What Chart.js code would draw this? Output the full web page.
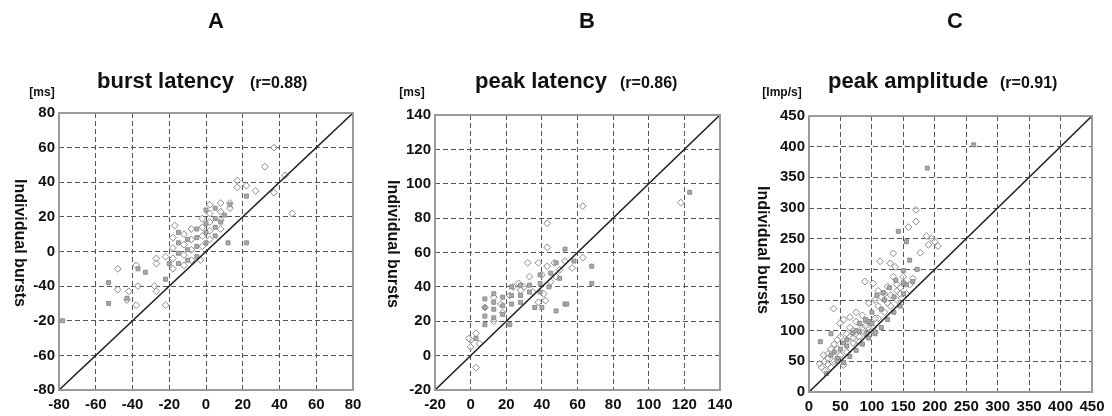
<!DOCTYPE html>
<html><head><meta charset="utf-8">
<script src="https://cdn.jsdelivr.net/npm/chart.js@4.4.1/dist/chart.umd.min.js"></script>
<style>
html,body{margin:0;padding:0;background:#fff;}
#wrap{position:relative;width:1112px;height:416px;overflow:hidden;background:#fff;}
canvas{position:absolute;top:0;}
</style></head><body>
<div id="wrap">
<canvas id="cA" width="370" height="416" style="left:0px;width:370px;height:416px"></canvas>
<canvas id="cB" width="370" height="416" style="left:370px;width:370px;height:416px"></canvas>
<canvas id="cC" width="372" height="416" style="left:740px;width:372px;height:416px"></canvas>
</div>
<script>
// ---------- Panel A: burst latency ----------
const burstOpen = [[37,60],[32,49],[43,44],[37,34],[47,22],[17,41],[17,37],[22,38],[27,35],
 [13,28],[13,25],[8,28],[8,23],[8,18],[8,13],[2,27],[2,22],[2,17],[2,12],[2,7],
 [-2,19],[-2,14],[-2,9],[-2,3],[-3,-5],[-8,13],[-8,7],[-8,1],[-8,-5],
 [-12,10],[-12,4],[-12,-2],[-12,-8],[-17,15],[-18,8],[-18,2],[-18,-4],[-18,-10],
 [-22,-3],[-27,-4],[-27,-7],[-28,-20],[-27,-23],[-22,-31],[-38,-8],[-37,-20],
 [-42,-23],[-48,-10],[-48,-22],[-38,-31],[-43,-28]];
const burstFilled = [[12,5],[22,5],[22,32],[8,17],[13,27],[10,21],[5,25],[5,19],[5,14],[5,9],
 [0,24],[0,16],[0,11],[0,5],[-5,13],[-5,8],[-5,3],[-5,-3],[-10,7],[-10,1],[-10,-5],
 [-15,11],[-15,5],[-15,-1],[-15,-7],[-20,-7],[-22,-16],[-33,-12],[-53,-18],[-53,-30],
 [-78,-40],[-43,-27],[-37,-10]];
const burstRange = [-80, 80];
const burstXTicks = ['-80','-60','-40','-20','0','20','40','60','80'];
const burstYTicks = ['-80','-60','-20','-40','0','20','40','60','80'];

// ---------- Panel B: peak latency ----------
const peakLatOpen = [[118,89],[63,87],[43,77],[43,63],[32,54],[43,52],[57,51],[63,57],
 [48,46],[45,43],[41,36],[38,54],[30,40],[27,42],[22,35],[17,30],[13,34],[8,28],[3,13],
 [0,9],[0,5],[5,7],[3,-7],[-1,10],[38,31],[42,32],[53,55],[28,38],[18,25],[13,20],
 [33,46],[24,40],[40,47],[50,50],[35,37],[47,54]];
const peakLatFilled = [[123,95],[53,62],[68,52],[68,42],[53,30],[48,26],[39,47],[39,42],[39,37],
 [33,41],[33,37],[28,41],[28,35],[28,31],[23,40],[23,35],[23,30],[18,34],[18,29],[18,24],
 [13,36],[13,31],[13,27],[13,22],[8,33],[8,28],[8,23],[8,18],[22,18],[48,54],[45,48],
 [50,45],[58,55],[36,28],[40,28],[3,10],[44,40],[54,30]];
const peakLatRange = [-20, 140];
const peakLatTicks = ['-20','0','20','40','60','80','100','120','140'];

// ---------- Panel C: peak amplitude ----------
const ampOpen = [[170,297],[170,278],[158,269],[177,227],[187,254],[195,250],[200,245],[205,238],
 [190,240],[134,226],[129,210],[113,213],[137,204],[150,188],[134,188],[89,180],[102,177],
 [110,165],[120,160],[130,158],[140,165],[145,170],[125,172],[115,155],[105,150],[95,145],
 [39,136],[49,112],[55,118],[65,122],[75,115],[85,110],[95,105],[100,100],[105,97],[70,100],
 [60,95],[50,90],[45,85],[40,78],[35,70],[30,62],[23,60],[17,46],[20,40],[25,35],[55,44],
 [60,65],[70,80],[80,90],[90,95],[110,120],[120,130],[130,140],[140,150],[155,160],[160,175],
 [85,125],[75,130],[65,105],[50,60],[40,50],[30,45],[25,50],[45,70],[65,90],[85,105],
 [105,120],[125,145],[145,160],[165,185],[70,88],[90,108],[110,140],[140,175],[30,55],[35,40],
 [80,82],[102,105]];
const ampFilled = [[262,403],[188,365],[142,262],[155,245],[172,200],[160,215],[150,198],[138,182],
 [128,170],[118,162],[108,158],[150,160],[165,180],[100,130],[90,118],[80,112],[70,96],[60,85],
 [50,70],[45,55],[18,82],[35,95],[55,48],[65,58],[75,68],[85,78],[95,88],[105,95],[115,105],
 [125,118],[135,130],[145,140],[35,60],[55,80],[75,100],[95,115],[115,135],[135,155],[155,175],
 [60,75],[80,98],[100,112],[120,150],[150,178],[40,65],[28,30],[45,50],[92,95]];
const ampRange = [0, 450];
const ampTicks = ['0','50','100','150','200','250','300','350','400','450'];

const FONT = "'Liberation Sans', Arial, sans-serif";

const textPlugin = {
  id: 'panelText',
  afterDraw(chart) {
    const o = chart.options.plugins.panelText;
    const ctx = chart.ctx;
    const a = chart.chartArea;
    ctx.save();
    ctx.strokeStyle = '#9a9a9a';
    ctx.lineWidth = 2;
    ctx.strokeRect(a.left, a.top, a.right - a.left, a.bottom - a.top);
    ctx.fillStyle = '#111';
    ctx.textBaseline = 'middle';
    ctx.textAlign = 'center';
    ctx.font = 'bold 22px ' + FONT;
    ctx.fillText(o.letter, o.letterX, 22);
    ctx.textAlign = 'left';
    ctx.font = 'bold 22px ' + FONT;
    ctx.fillText(o.title, o.titleX, 82);
    ctx.font = 'bold 16px ' + FONT;
    ctx.fillText(o.r, o.rX, 84);
    ctx.textAlign = 'center';
    ctx.font = 'bold 12px ' + FONT;
    ctx.fillText(o.unit, o.unitX, 93);
    ctx.translate(o.ylabX, o.ylabY);
    ctx.rotate(Math.PI / 2);
    ctx.font = 'bold 16px ' + FONT;
    ctx.fillText('Individual bursts', 0, 0);
    ctx.restore();
  }
};

function toPts(arr) { return arr.map(p => ({x: p[0], y: p[1]})); }

function makeChart(id, open, filled, range, step, xLabels, yLabels, geo, txt) {
  const axisFont = {family: FONT, weight: 'bold', size: 15};
  const common = {
    min: range[0], max: range[1],
    grid: {color: '#555', lineWidth: 1, drawTicks: false},
    border: {display: false, dash: [5, 3]},
  };
  new Chart(document.getElementById(id), {
    type: 'scatter',
    data: {
      datasets: [
        {type: 'line', data: [{x: range[0], y: range[0]}, {x: range[1], y: range[1]}],
         borderColor: '#222', borderWidth: 1.6, pointRadius: 0, fill: false, order: 0},
        {data: toPts(open), pointStyle: 'rectRot', pointRadius: 3.4,
         backgroundColor: 'rgba(255,255,255,0.5)', borderColor: '#8a8a8a', borderWidth: 1, order: 2},
        {data: toPts(filled), pointStyle: 'rect', pointRadius: 2.8,
         backgroundColor: '#aaaaaa', borderColor: '#8c8c8c', borderWidth: 1, order: 1}
      ]
    },
    options: {
      responsive: false, animation: false, devicePixelRatio: 1,
      layout: {padding: {left: 0, right: geo.padRight, top: geo.padTop, bottom: geo.padBottom}},
      plugins: {legend: {display: false}, tooltip: {enabled: false}, panelText: txt},
      scales: {
        x: Object.assign({}, common, {
          ticks: {stepSize: step, autoSkip: false, maxRotation: 0, minRotation: 0, padding: 6,
                  color: '#111', font: axisFont, callback: (v, i) => xLabels[i]},
          afterFit: s => { s.height = 22; }
        }),
        y: Object.assign({}, common, {
          ticks: {stepSize: step, autoSkip: false, padding: 4, color: '#111', font: axisFont,
                  callback: (v, i) => yLabels[i]},
          afterFit: s => { s.width = geo.yW; }
        })
      }
    },
    plugins: [textPlugin]
  });
}

makeChart('cA', burstOpen, burstFilled, burstRange, 20, burstXTicks, burstYTicks,
  {yW: 59, padRight: 17, padTop: 113, padBottom: 4},
  {letter: 'A', letterX: 216, title: 'burst latency', titleX: 97, r: '(r=0.88)', rX: 250,
   unit: '[ms]', unitX: 42, ylabX: 19, ylabY: 243});
makeChart('cB', peakLatOpen, peakLatFilled, peakLatRange, 20, peakLatTicks, peakLatTicks,
  {yW: 65, padRight: 20, padTop: 115, padBottom: 4},
  {letter: 'B', letterX: 217, title: 'peak latency', titleX: 105, r: '(r=0.86)', rX: 250,
   unit: '[ms]', unitX: 42, ylabX: 22, ylabY: 244});
makeChart('cC', ampOpen, ampFilled, ampRange, 50, ampTicks, ampTicks,
  {yW: 69, padRight: 20, padTop: 116, padBottom: 2},
  {letter: 'C', letterX: 215, title: 'peak amplitude', titleX: 88, r: '(r=0.91)', rX: 260,
   unit: '[Imp/s]', unitX: 42, ylabX: 22, ylabY: 250});
</script>
</body></html>
